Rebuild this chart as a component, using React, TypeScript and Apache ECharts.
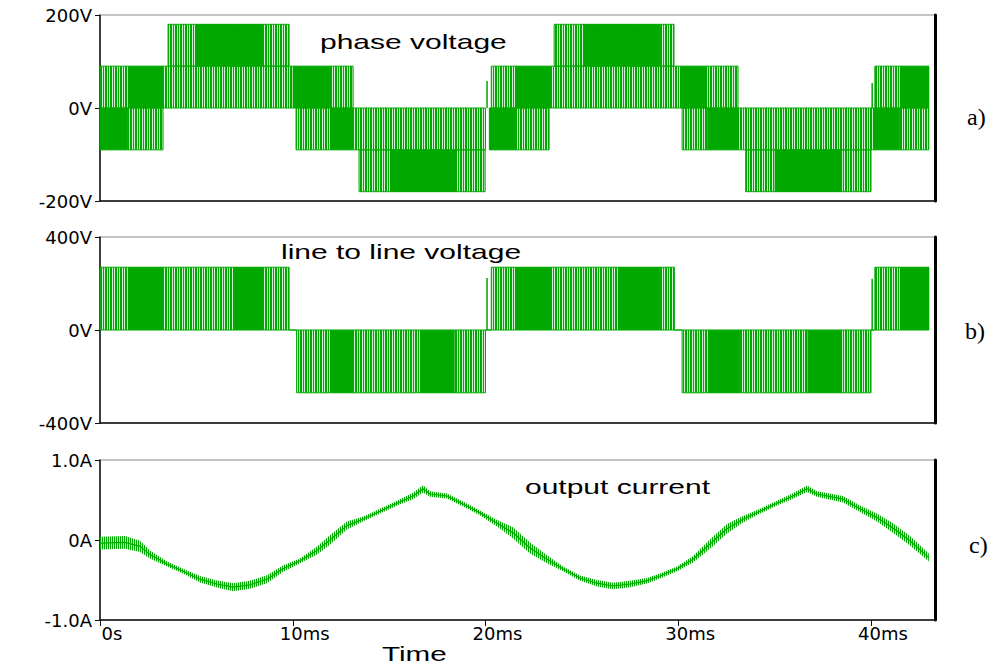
import React, { useEffect, useRef } from 'react';
import * as echarts from 'echarts';

// ---------- data (time in ms) ----------
const timeTicksMs = [0, 10, 20, 30, 40];
const timeMaxMs = 43.32;

// phase voltage: switching bands [tStart, tEnd, lowV, highV]
const phaseBands = [
  [0, 13.13, 0, 90],
  [20.3, 33.1, 0, 90],
  [40.2, 43.0, 0, 90],
  [3.53, 9.81, 90, 180],
  [23.56, 29.78, 90, 180],
  [0, 3.27, -90, 0],
  [10.17, 20.0, -90, 0],
  [20.2, 23.3, -90, 0],
  [30.2, 43.0, -90, 0],
  [13.44, 19.98, -180, -90],
  [33.5, 40.0, -180, -90],
];
// phase voltage: stretches where pulses are packed solid
const phaseDense = [
  [0, 1.45, -90, 0],
  [1.45, 3.27, 0, 90],
  [5.03, 8.46, 90, 180],
  [10.0, 11.93, 0, 90],
  [11.93, 13.13, -90, 0],
  [15.05, 18.52, -180, -90],
  [20.2, 21.53, -90, 0],
  [21.53, 23.35, 0, 90],
  [25.06, 29.05, 90, 180],
  [30.1, 31.5, 0, 90],
  [31.5, 33.1, -90, 0],
  [35.0, 38.5, -180, -90],
  [40.1, 41.5, -90, 0],
  [41.5, 43.0, 0, 90],
];
const phaseSpikes = [
  [20.08, 58],
  [40.06, 54],
];

// line to line voltage
const lineBands = [
  [0, 9.81, 0, 270],
  [9.81, 10.2, 0, 0],
  [10.2, 20.0, -270, 0],
  [20.0, 20.3, 0, 0],
  [20.3, 29.8, 0, 270],
  [29.8, 30.2, 0, 0],
  [30.2, 40.0, -270, 0],
  [40.0, 40.2, 0, 0],
  [40.2, 43.0, 0, 270],
];
const lineDense = [
  [1.45, 3.27, 0, 270],
  [6.9, 8.46, 0, 270],
  [11.93, 13.13, -270, 0],
  [16.7, 18.4, -270, 0],
  [21.53, 23.35, 0, 270],
  [26.87, 29.05, 0, 270],
  [31.54, 33.2, -270, 0],
  [36.7, 38.5, -270, 0],
  [41.5, 43.0, 0, 270],
];
const lineSpikes = [
  [20.08, 224],
  [40.06, 220],
];

// output current: centre line and half-height of the switching ripple
const currentTimeMs = [
  0, 1.3, 2.08, 2.59, 3.48, 4.31, 5.19, 6.07, 6.9, 7.78, 8.66, 9.49, 10.38, 11.26, 11.93,
  12.81, 13.64, 14.53, 15.41, 16.24, 16.76, 17.12, 18.0, 18.83, 19.71, 20.6, 21.43, 22.31,
  23.19, 24.02, 24.9, 25.78, 26.61, 27.5, 28.38, 29.05, 29.94, 30.77, 31.65, 32.53, 33.36,
  34.24, 35.12, 35.95, 36.68, 37.2, 38.55, 39.43, 40.31, 41.14, 42.02, 43.0,
];
const currentAmps = [
  -0.04, -0.03, -0.08, -0.18, -0.3, -0.39, -0.49, -0.55, -0.59, -0.56, -0.49, -0.36, -0.26,
  -0.13, 0.0, 0.18, 0.26, 0.36, 0.46, 0.55, 0.64, 0.575, 0.55, 0.45, 0.34, 0.21, 0.09, -0.1,
  -0.24, -0.36, -0.475, -0.54, -0.575, -0.55, -0.51, -0.45, -0.36, -0.24, -0.05, 0.14, 0.26,
  0.36, 0.46, 0.55, 0.64, 0.575, 0.51, 0.39, 0.28, 0.15, -0.01, -0.22,
];
const currentRipple = [
  0.08, 0.08, 0.07, 0.05, 0.03, 0.03, 0.04, 0.045, 0.05, 0.05, 0.05, 0.04, 0.03, 0.05, 0.06,
  0.05, 0.03, 0.03, 0.03, 0.04, 0.045, 0.035, 0.03, 0.03, 0.03, 0.04, 0.07, 0.07, 0.05, 0.03,
  0.03, 0.04, 0.04, 0.04, 0.035, 0.03, 0.03, 0.04, 0.06, 0.06, 0.04, 0.03, 0.03, 0.035, 0.04,
  0.035, 0.04, 0.04, 0.05, 0.06, 0.06, 0.05,
];

// ---------- styling ----------
const GREEN = '#00a800';
const LIGHT = 'rgba(0,168,0,0.18)';

function stripes(cols: string[]) {
  const c = document.createElement('canvas');
  c.width = cols.length;
  c.height = 4;
  const ctx = c.getContext('2d')!;
  cols.forEach((col, i) => {
    ctx.fillStyle = col;
    ctx.fillRect(i, 0, 1, 4);
  });
  return { image: c.toDataURL(), repeat: 'repeat', imageWidth: cols.length, imageHeight: 4 } as any;
}

const AXIS_FONT = 'DejaVu Sans';

export default function App() {
  const ref = useRef<HTMLDivElement>(null);

  useEffect(() => {
    const chart = echarts.init(ref.current!, null, { renderer: 'svg' });
    const pwmPattern = stripes([GREEN, GREEN, LIGHT, GREEN, LIGHT]);
    const ripplePattern = stripes([GREEN, LIGHT]);

    const bandSeries = (data: number[][], gi: number, fill: any, stroke: any, z: number) => ({
      type: 'custom',
      xAxisIndex: gi,
      yAxisIndex: gi,
      z,
      silent: true,
      encode: { x: [0, 1], y: [2, 3] },
      data,
      renderItem: (_p: any, api: any) => {
        const a = api.coord([api.value(0), api.value(3)]);
        const b = api.coord([api.value(1), api.value(2)]);
        return {
          type: 'rect',
          shape: { x: a[0], y: a[1], width: b[0] - a[0], height: b[1] - a[1] },
          style: { fill, stroke, lineWidth: 1 },
        };
      },
    });
    const spikeSeries = (data: number[][], gi: number) => ({
      type: 'custom',
      xAxisIndex: gi,
      yAxisIndex: gi,
      z: 4,
      silent: true,
      encode: { x: 0, y: 1 },
      data,
      renderItem: (_p: any, api: any) => {
        const a = api.coord([api.value(0), 0]);
        const b = api.coord([api.value(0), api.value(1)]);
        return {
          type: 'line',
          shape: { x1: a[0], y1: a[1], x2: b[0], y2: b[1] },
          style: { stroke: GREEN, lineWidth: 1.5 },
        };
      },
    });

    // ripple envelope: each item is one point; renderItem draws the quad to the next point
    const rippleData = currentTimeMs.map((t, i) => [
      t,
      currentAmps[i] - currentRipple[i],
      currentAmps[i] + currentRipple[i],
    ]);
    const rippleSeries = {
      type: 'custom',
      xAxisIndex: 2,
      yAxisIndex: 2,
      z: 2,
      silent: true,
      encode: { x: 0, y: [1, 2] },
      data: rippleData,
      renderItem: (params: any, api: any) => {
        const i = params.dataIndex;
        if (i >= rippleData.length - 1) return null;
        const p = rippleData[i];
        const q = rippleData[i + 1];
        const pts = [
          api.coord([p[0], p[2]]),
          api.coord([q[0], q[2]]),
          api.coord([q[0], q[1]]),
          api.coord([p[0], p[1]]),
        ];
        return {
          type: 'polygon',
          shape: { points: pts },
          style: { fill: ripplePattern },
        };
      },
    };

    const gridTops = [15, 237, 460];
    const gridHeights = [186, 186, 160];
    const yRanges = [
      { min: -200, max: 200, interval: 200, fmt: (v: number) => `${v}V` },
      { min: -400, max: 400, interval: 400, fmt: (v: number) => `${v}V` },
      { min: -1, max: 1, interval: 1, fmt: (v: number) => (v === 0 ? '0A' : `${v.toFixed(1)}A`) },
    ];

    const option: any = {
      animation: false,
      backgroundColor: '#fff',
      grid: gridTops.map((top, i) => ({
        left: 100,
        top,
        width: 835,
        height: gridHeights[i],
        show: true,
        borderColor: '#8a8a8a',
        borderWidth: 1,
      })),
      xAxis: [0, 1, 2].map((i) => ({
        type: 'value',
        gridIndex: i,
        min: 0,
        max: timeMaxMs,
        interval: 10,
        position: 'bottom',
        splitLine: { show: false },
        axisLine: { show: true, onZero: false, lineStyle: { color: '#111', width: 1.5 } },
        axisTick: {
          show: i === 2,
          length: 6,
          lineStyle: { color: '#111' },
          customValues: timeTicksMs,
        },
        axisLabel: {
          show: i === 2,
          customValues: timeTicksMs,
          formatter: (v: number) => (v === 0 ? '0s' : `${v}ms`),
          color: '#000',
          fontFamily: AXIS_FONT,
          fontSize: 18,
          margin: 4,
          padding: [0, 0, 0, 24],
        },
      })),
      yAxis: [
        ...[0, 1, 2].map((i) => ({
          type: 'value',
          gridIndex: i,
          min: yRanges[i].min,
          max: yRanges[i].max,
          interval: yRanges[i].interval,
          splitLine: { show: false },
          axisLine: { show: true, onZero: false, lineStyle: { color: '#111', width: 1.5 } },
          axisTick: { show: true, length: 5, lineStyle: { color: '#111' } },
          axisLabel: {
            formatter: yRanges[i].fmt,
            color: '#000',
            fontFamily: AXIS_FONT,
            fontSize: 18,
            margin: 8,
          },
        })),
        ...[0, 1, 2].map((i) => ({
          type: 'value',
          gridIndex: i,
          position: 'right',
          min: yRanges[i].min,
          max: yRanges[i].max,
          splitLine: { show: false },
          axisLine: { show: true, onZero: false, lineStyle: { color: '#000', width: 3 } },
          axisTick: { show: false },
          axisLabel: { show: false },
        })),
      ],
      series: [
        bandSeries(phaseBands, 0, pwmPattern, GREEN, 2),
        bandSeries(phaseDense, 0, GREEN, null, 3),
        spikeSeries(phaseSpikes, 0),
        bandSeries(lineBands, 1, pwmPattern, GREEN, 2),
        bandSeries(lineDense, 1, GREEN, null, 3),
        spikeSeries(lineSpikes, 1),
        rippleSeries,
        {
          type: 'line',
          xAxisIndex: 2,
          yAxisIndex: 2,
          z: 3,
          symbol: 'none',
          silent: true,
          lineStyle: { color: GREEN, width: 1.2 },
          data: currentTimeMs.map((t, i) => [t, currentAmps[i]]),
        },
      ],
      graphic: [
        { type: 'text', x: 320, y: 42, scaleX: 1.5, style: { text: 'phase voltage', fontFamily: 'Liberation Sans', fontSize: 20, fill: '#000', textAlign: 'left', textVerticalAlign: 'middle' } },
        { type: 'text', x: 281, y: 252, scaleX: 1.5, style: { text: 'line to line voltage', fontFamily: 'Liberation Sans', fontSize: 20, fill: '#000', textAlign: 'left', textVerticalAlign: 'middle' } },
        { type: 'text', x: 525, y: 487, scaleX: 1.5, style: { text: 'output current', fontFamily: 'Liberation Sans', fontSize: 20, fill: '#000', textAlign: 'left', textVerticalAlign: 'middle' } },
        { type: 'text', x: 382, y: 654, scaleX: 1.48, style: { text: 'Time', fontFamily: 'Liberation Sans', fontSize: 20, fill: '#000', textAlign: 'left', textVerticalAlign: 'middle' } },
        { type: 'text', x: 967, y: 117, style: { text: 'a)', fontFamily: 'Liberation Serif', fontSize: 24, fill: '#000', textAlign: 'left', textVerticalAlign: 'middle' } },
        { type: 'text', x: 965, y: 331, style: { text: 'b)', fontFamily: 'Liberation Serif', fontSize: 24, fill: '#000', textAlign: 'left', textVerticalAlign: 'middle' } },
        { type: 'text', x: 969, y: 545, style: { text: 'c)', fontFamily: 'Liberation Serif', fontSize: 24, fill: '#000', textAlign: 'left', textVerticalAlign: 'middle' } },
      ],
    };

    chart.setOption(option);
    return () => chart.dispose();
  }, []);

  return (
    <div
      ref={ref}
      style={{ position: 'absolute', left: 0, top: 0, width: 993, height: 666, background: '#fff' }}
    />
  );
}
